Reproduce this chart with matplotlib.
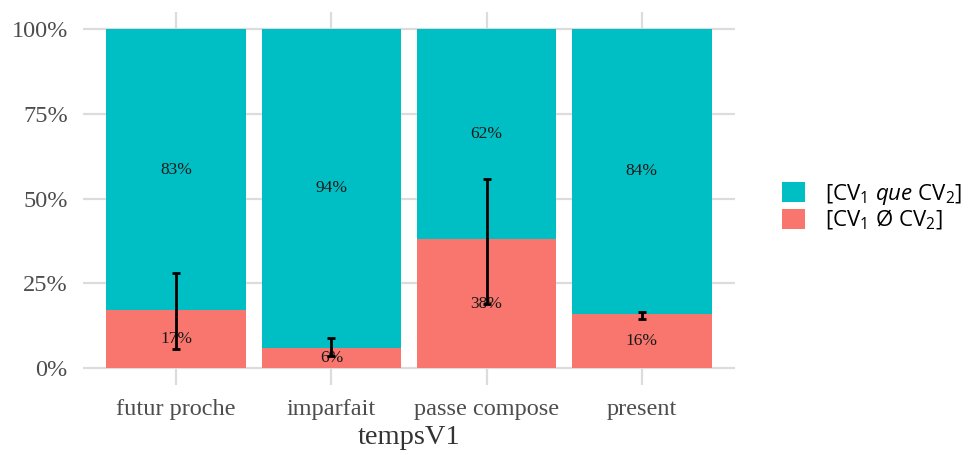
import matplotlib
matplotlib.use("Agg")
import matplotlib.pyplot as plt
from matplotlib.patches import Patch
import numpy as np

# data
tenses = ["futur proche", "imparfait", "passe compose", "present"]
zero_share = [0.17, 0.06, 0.38, 0.16]       # [CV1 Ø CV2]
que_share = [0.83, 0.94, 0.62, 0.84]        # [CV1 que CV2]
err_low = [0.055, 0.035, 0.19, 0.145]
err_high = [0.28, 0.088, 0.557, 0.165]
y_ticks = [0, 0.25, 0.5, 0.75, 1.0]
y_tick_labels = ["0%", "25%", "50%", "75%", "100%"]

teal = "#00BFC4"
salmon = "#F8766D"
grid_col = "#dcdcdc"

plt.rcParams["mathtext.fontset"] = "custom"
plt.rcParams["mathtext.rm"] = "Open Sans"
plt.rcParams["mathtext.it"] = "Open Sans:italic"

fig = plt.figure(figsize=(9.78, 4.55), dpi=100)
ax = fig.add_axes([0.0849, 0.1538, 0.6666, 0.8198])

x = np.arange(1, len(tenses) + 1)
ax.bar(x, zero_share, width=0.9, color=salmon, zorder=2)
ax.bar(x, que_share, width=0.9, bottom=zero_share, color=teal, zorder=2)

# percentage labels at the centre of each segment
for xi, z, q in zip(x, zero_share, que_share):
    ax.text(xi, z / 2, f"{round(z * 100)}%", ha="center", va="center",
            fontsize=12.5, family="Liberation Serif", color="#1a1a1a", zorder=3)
    ax.text(xi, z + q / 2, f"{round(q * 100)}%", ha="center", va="center",
            fontsize=12.5, family="Liberation Serif", color="#1a1a1a", zorder=3)

# confidence intervals
for xi, lo, hi in zip(x, err_low, err_high):
    ax.errorbar(xi, (lo + hi) / 2, yerr=[[(hi - lo) / 2], [(hi - lo) / 2]],
                fmt="none", ecolor="black", elinewidth=2, capsize=3,
                capthick=2, zorder=4)

ax.set_xlim(0.4, 4.6)
ax.set_ylim(-0.05, 1.05)
ax.set_yticks(y_ticks)
ax.set_yticklabels(y_tick_labels)
ax.set_xticks(x)
ax.set_xticklabels(tenses)
ax.grid(True, color=grid_col, linewidth=1.6, zorder=0)
ax.set_axisbelow(True)
for s in ax.spines.values():
    s.set_visible(False)
ax.tick_params(length=0, labelsize=17.5, labelcolor="#4d4d4d")
ax.tick_params(axis="x", pad=10)
ax.tick_params(axis="y", pad=11)
for lab in ax.get_xticklabels() + ax.get_yticklabels():
    lab.set_family("Liberation Serif")
ax.set_xlabel("tempsV1", fontsize=20.5, family="Liberation Serif",
              color="#333333", labelpad=4)

handles = [Patch(facecolor=teal, edgecolor="none"),
           Patch(facecolor=salmon, edgecolor="none")]
labels = [r"[CV$_1$ $\it{que}$ CV$_2$]", r"[CV$_1$ Ø CV$_2$]"]
fig.legend(handles, labels, loc="center left", bbox_to_anchor=(0.8, 0.545),
           frameon=False, handlelength=1.0, handleheight=1.0,
           handletextpad=0.9, labelspacing=0.05, borderpad=0,
           borderaxespad=0, prop={"family": "Open Sans", "size": 16})

fig.savefig("out.png", dpi=100)
